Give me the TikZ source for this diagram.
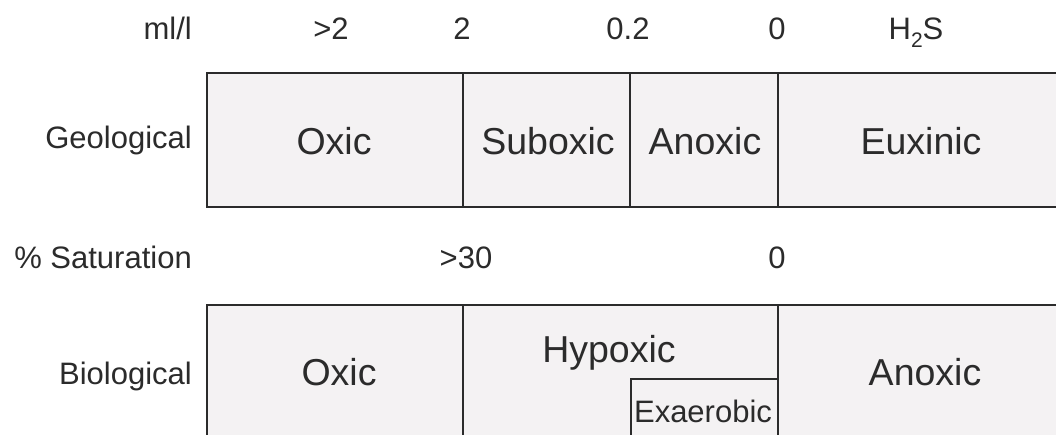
\documentclass[tikz,border=0pt]{standalone}
\usepackage{fontspec}
\setmainfont{Liberation Sans}
\definecolor{cellfill}{HTML}{F4F2F3}
\definecolor{ink}{HTML}{2B2B2B}
\begin{document}
\begin{tikzpicture}[x=1pt,y=-1pt,
  lab/.style={font=\fontsize{31}{36}\selectfont, text=ink, inner sep=0pt, anchor=base},
  rowlab/.style={lab, anchor=base east},
  zone/.style={font=\fontsize{37.5}{44}\selectfont, text=ink, inner sep=0pt, anchor=base},
  frame/.style={draw=ink, line width=2.8pt, fill=cellfill},
  divider/.style={draw=ink, line width=2.8pt}]
\useasboundingbox (0,0) rectangle (1056,434);
\fill[white] (0,0) rectangle (1056,434);
\clip (0,0) rectangle (1056,434);
% geological bar
\draw[frame] (207,73) rectangle (1070,207);
\draw[divider] (463,73) -- (463,207);
\draw[divider] (630,73) -- (630,207);
\draw[divider] (778,73) -- (778,207);
% biological bar
\draw[frame] (207,305) rectangle (1070,450);
\draw[divider] (463,305) -- (463,450);
\draw[divider] (778,305) -- (778,450);
\draw[divider] (631,450) -- (631,379) -- (778,379);
% top scale
\node[rowlab] (mll) at (192,39) {ml/l};
\node[lab] (gt2) at (331,39) {>2};
\node[lab] (two) at (462,39) {2};
\node[lab] (ptwo) at (628,39) {0.2};
\node[lab] (zero) at (777,39) {0};
\node[lab] (hs) at (916,39) {H\raisebox{-0.28em}{\fontsize{21}{24}\selectfont 2}S};
% geological
\node[rowlab] (geo) at (192,148) {Geological};
\node[zone] (oxA) at (334,154) {Oxic};
\node[zone] (sub) at (548,154) {Suboxic};
\node[zone] (anA) at (705,154) {Anoxic};
\node[zone] (eux) at (921,154) {Euxinic};
% saturation
\node[rowlab] (sat) at (192,268) {\% Saturation};
\node[lab] (gt30) at (466,268) {>30};
\node[lab] (zs) at (777,268) {0};
% biological
\node[rowlab] (bio) at (192,384) {Biological};
\node[zone] (oxB) at (339,385) {Oxic};
\node[zone] (hyp) at (609,362) {Hypoxic};
\node[zone] (anB) at (925,385) {Anoxic};
\node[lab] (exa) at (703,422) {Exaerobic};
\end{tikzpicture}
\end{document}
